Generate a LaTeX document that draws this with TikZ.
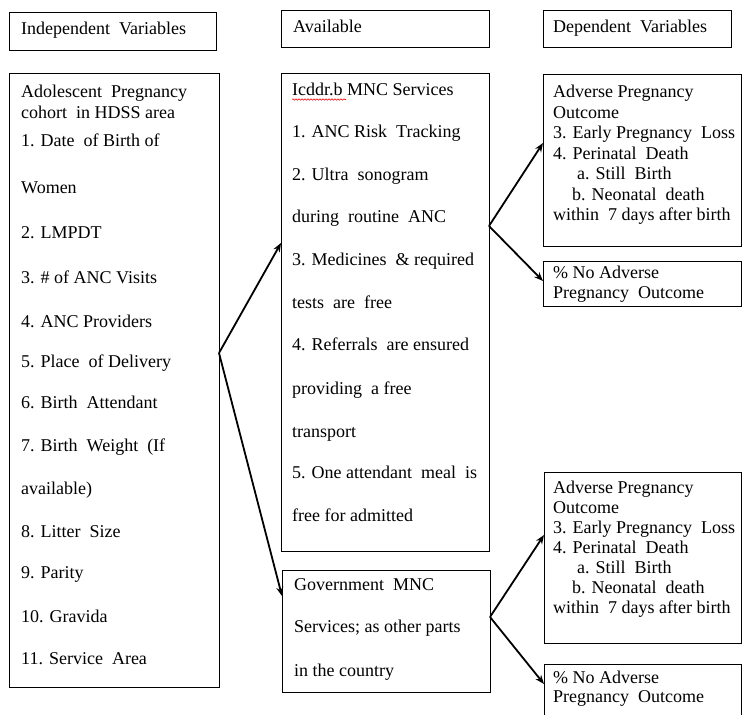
\documentclass[tikz,border=0pt]{standalone}
\usepackage{fontspec}
\setmainfont{Liberation Serif}
\usetikzlibrary{arrows.meta,decorations.pathmorphing,calc}
\begin{document}
\begin{tikzpicture}[x=1pt,y=-1pt,
  box/.style={draw=black,line width=0.9pt,inner sep=0pt,outer sep=0pt,anchor=north west},
  txt/.style={anchor=base west,inner sep=0pt,font=\fontsize{18}{20}\selectfont},
  arr/.style={line width=1.8pt,-{Stealth[length=9pt,width=7pt]}}]
\useasboundingbox (0,0) rectangle (742,715);
\fill[white] (0,0) rectangle (742,715);

% header boxes
\node[box,minimum width=207pt,minimum height=38pt] (hind) at (9,12) {};
\node[box,minimum width=208pt,minimum height=37pt] (hav) at (281,10) {};
\node[box,minimum width=188pt,minimum height=37pt] (hdep) at (543,10) {};
\node[txt] (hindt) at (21,34) {Independent\ \ Variables};
\node[txt] (havt) at (293,32) {Available};
\node[txt] (hdept) at (553,32) {Dependent\ \ Variables};

% main boxes
\node[box,minimum width=210pt,minimum height=614pt] (indbox) at (9,73) {};
\node[box,minimum width=208pt,minimum height=478pt] (icbox) at (281,73) {};
\node[box,minimum width=208pt,minimum height=122pt] (govbox) at (282,570) {};
\node[box,minimum width=198pt,minimum height=172pt] (ad1) at (543,74) {};
\node[box,minimum width=198pt,minimum height=45pt] (no1) at (543,261) {};
\node[box,minimum width=197pt,minimum height=171pt] (ad2) at (544,472) {};
\node[box,minimum width=197pt,minimum height=70pt] (no2) at (544,664) {};

% independent variables
\foreach \y/\t [count=\i] in {
  97/Adolescent\ \ Pregnancy,
  118/cohort\ \ in HDSS area,
  146/1. Date\ \ of Birth of,
  193/Women,
  238/2. LMPDT,
  283/3. \# of ANC Visits,
  327/4. ANC Providers,
  367/5. Place\ \ of Delivery,
  408/6. Birth\ \ Attendant,
  451/7. Birth\ \ Weight\ \ (If,
  494/available),
  537/8. Litter\ \ Size,
  578/9. Parity,
  622/10. Gravida,
  664/11. Service\ \ Area}
  \node[txt] (ind\i) at (21,\y) {\t};

% icddr,b services
\foreach \y/\t [count=\i] in {
  95.5/Icddr.b MNC Services,
  137.5/1. ANC Risk\ \ Tracking,
  180.5/2. Ultra\ \ sonogram,
  222.5/during\ \ routine\ \ ANC,
  265.5/3. Medicines\ \ \&\ required,
  308.5/tests\ \ are\ \ free,
  350.5/4. Referrals\ \ are ensured,
  394.5/providing\ \ a free,
  437.5/transport,
  478.5/5. One attendant\ \ meal\ \ is,
  521.5/free for admitted}
  \node[txt] (ic\i) at (292,\y) {\t};
\draw[red,line width=0.6pt,decorate,decoration={snake,amplitude=0.7pt,segment length=3pt}]
  ($(ic1.base west)+(0,4)$) -- ($(ic1.base west)+(54,4)$);

% government services
\foreach \y/\t [count=\i] in {
  590.5/Government\ \ MNC,
  632.5/Services; as other parts,
  676.5/in the country}
  \node[txt] (gov\i) at (294,\y) {\t};

% dependent variables, top
\foreach \x/\y/\t [count=\i] in {
  553/97.5/Adverse Pregnancy,
  553/118/Outcome,
  553/138.5/3. Early Pregnancy\ \ Loss,
  553/159/4. Perinatal\ \ Death,
  577/179.5/a. Still\ \ Birth,
  572/200/b. Neonatal\ \ death,
  553/220.5/within\ \ 7 days after birth}
  \node[txt] (ada\i) at (\x,\y) {\t};
\node[txt] (noa1) at (553,278.5) {\% No Adverse};
\node[txt] (noa2) at (553,298.5) {Pregnancy\ \ Outcome};

% dependent variables, bottom
\foreach \x/\y/\t [count=\i] in {
  553/493.5/Adverse Pregnancy,
  553/513.5/Outcome,
  553/533.5/3. Early Pregnancy\ \ Loss,
  553/553.5/4. Perinatal\ \ Death,
  577/573.5/a. Still\ \ Birth,
  572/593.5/b. Neonatal\ \ death,
  553/613.5/within\ \ 7 days after birth}
  \node[txt] (adb\i) at (\x,\y) {\t};
\node[txt] (nob1) at (553,683.5) {\% No Adverse};
\node[txt] (nob2) at (553,702.5) {Pregnancy\ \ Outcome};

% connectors
\draw[arr] ($(indbox.north east)+(0,280)$) -- ($(icbox.north west)+(0,170)$);
\draw[arr] ($(indbox.north east)+(0,280)$) -- ($(govbox.north west)+(0,26)$);
\draw[arr] ($(icbox.north east)+(0,153)$) -- ($(ad1.north west)+(0,69)$);
\draw[arr] ($(icbox.north east)+(0,153)$) -- ($(no1.north west)+(0,20)$);
\draw[arr] ($(govbox.north east)+(0,47)$) -- ($(ad2.north west)+(0,63)$);
\draw[arr] ($(govbox.north east)+(0,47)$) -- ($(no2.north west)+(0,20)$);
\end{tikzpicture}
\end{document}
